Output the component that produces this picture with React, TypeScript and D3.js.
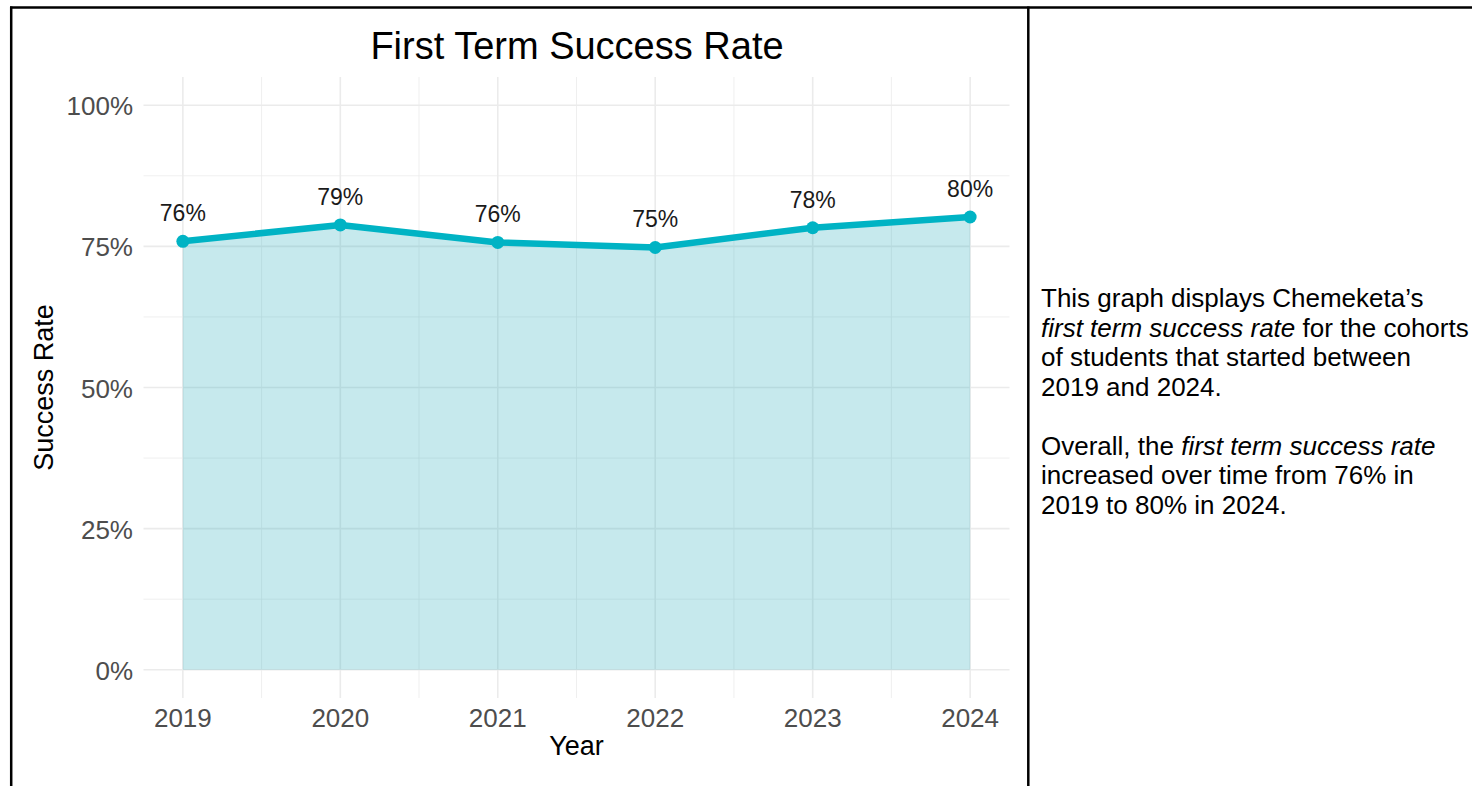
import React from "react";
import * as d3 from "d3";

const years = [2019, 2020, 2021, 2022, 2023, 2024];
const rates = [0.759, 0.788, 0.757, 0.748, 0.783, 0.802];
const rateLabels = ["76%", "79%", "76%", "75%", "78%", "80%"];
const yTicks = [0, 0.25, 0.5, 0.75, 1];
const yTickLabels = ["0%", "25%", "50%", "75%", "100%"];
const yMinor = [0.125, 0.375, 0.625, 0.875];
const xMinor = [2019.5, 2020.5, 2021.5, 2022.5, 2023.5];
const titleText = "First Term Success Rate";
const xTitle = "Year";
const yTitle = "Success Rate";

const W = 1472;
const H = 786;
const FONT = "'Liberation Sans', Arial, Helvetica, sans-serif";

export default function App() {
  const x = d3.scaleLinear().domain([2018.75, 2024.25]).range([143.5, 1009.5]);
  const y = d3.scaleLinear().domain([-0.05, 1.05]).range([698, 77]);
  const data = years.map((yr, i) => ({ yr, v: rates[i], label: rateLabels[i] }));
  const line = d3.line<any>().x((d) => x(d.yr)).y((d) => y(d.v));
  const area = d3
    .area<any>()
    .x((d) => x(d.yr))
    .y0(y(0))
    .y1((d) => y(d.v));
  const [px0, px1] = x.range();
  const [py1, py0] = y.range();
  const grid = "#EBEBEB";
  const lineColor = "#00B3C4";

  const textLines: { parts: { t: string; i?: boolean }[] }[] = [
    { parts: [{ t: "This graph displays Chemeketa\u2019s" }] },
    { parts: [{ t: "first term success rate", i: true }, { t: " for the cohorts" }] },
    { parts: [{ t: "of students that started between" }] },
    { parts: [{ t: "2019 and 2024." }] },
    { parts: [] },
    { parts: [{ t: "Overall, the " }, { t: "first term success rate", i: true }] },
    { parts: [{ t: "increased over time from 76% in" }] },
    { parts: [{ t: "2019 to 80% in 2024." }] },
  ];

  return (
    <svg
      width={W}
      height={H}
      style={{ position: "absolute", left: 0, top: 0, display: "block", background: "#fff" }}
      fontFamily={FONT}
    >
      <rect x={0} y={0} width={W} height={H} fill="#fff" />
      {/* minor gridlines */}
      {yMinor.map((t) => (
        <line key={"ym" + t} x1={px0} x2={px1} y1={y(t)} y2={y(t)} stroke={grid} strokeWidth={0.8} />
      ))}
      {xMinor.map((t) => (
        <line key={"xm" + t} x1={x(t)} x2={x(t)} y1={py0} y2={py1} stroke={grid} strokeWidth={0.8} />
      ))}
      {/* major gridlines */}
      {yTicks.map((t) => (
        <line key={"yM" + t} x1={px0} x2={px1} y1={y(t)} y2={y(t)} stroke={grid} strokeWidth={1.6} />
      ))}
      {years.map((t) => (
        <line key={"xM" + t} x1={x(t)} x2={x(t)} y1={py0} y2={py1} stroke={grid} strokeWidth={1.6} />
      ))}
      {/* area */}
      <path d={area(data) || ""} fill="#1AA7B7" fillOpacity={0.25} />
      {/* line */}
      <path d={line(data) || ""} fill="none" stroke={lineColor} strokeWidth={6.5} strokeLinejoin="round" />
      {data.map((d) => (
        <circle key={"pt" + d.yr} cx={x(d.yr)} cy={y(d.v)} r={6.5} fill={lineColor} />
      ))}
      {data.map((d) => (
        <text
          key={"lb" + d.yr}
          x={x(d.yr)}
          y={y(d.v) - 20}
          textAnchor="middle"
          fontSize={23}
          fill="#1a1a1a"
        >
          {d.label}
        </text>
      ))}
      {/* y tick labels */}
      {yTicks.map((t, i) => (
        <text key={"yt" + t} x={133} y={y(t) + 10} textAnchor="end" fontSize={26} fill="#4D4D4D">
          {yTickLabels[i]}
        </text>
      ))}
      {/* x tick labels */}
      {years.map((t) => (
        <text key={"xt" + t} x={x(t)} y={727} textAnchor="middle" fontSize={26} fill="#4D4D4D">
          {String(t)}
        </text>
      ))}
      {/* axis titles */}
      <text x={(px0 + px1) / 2} y={755} textAnchor="middle" fontSize={27} fill="#000">
        {xTitle}
      </text>
      <text
        transform={`translate(53, ${(py0 + py1) / 2}) rotate(-90)`}
        textAnchor="middle"
        fontSize={27}
        fill="#000"
      >
        {yTitle}
      </text>
      {/* title */}
      <text x={577} y={59} textAnchor="middle" fontSize={38} fill="#000">
        {titleText}
      </text>
      {/* table borders */}
      <line x1={10} x2={W} y1={7.5} y2={7.5} stroke="#000" strokeWidth={2.5} />
      <line x1={11.2} x2={11.2} y1={6.5} y2={H} stroke="#000" strokeWidth={2.5} />
      <line x1={1028.3} x2={1028.3} y1={6.5} y2={H} stroke="#000" strokeWidth={2.5} />
      {/* right-hand description */}
      {textLines.map((ln, i) => (
        <text key={"tl" + i} x={1041} y={307 + i * 29.5} fontSize={26} fill="#000">
          {ln.parts.map((p, j) => (
            <tspan key={j} fontStyle={p.i ? "italic" : "normal"}>
              {p.t}
            </tspan>
          ))}
        </text>
      ))}
    </svg>
  );
}
